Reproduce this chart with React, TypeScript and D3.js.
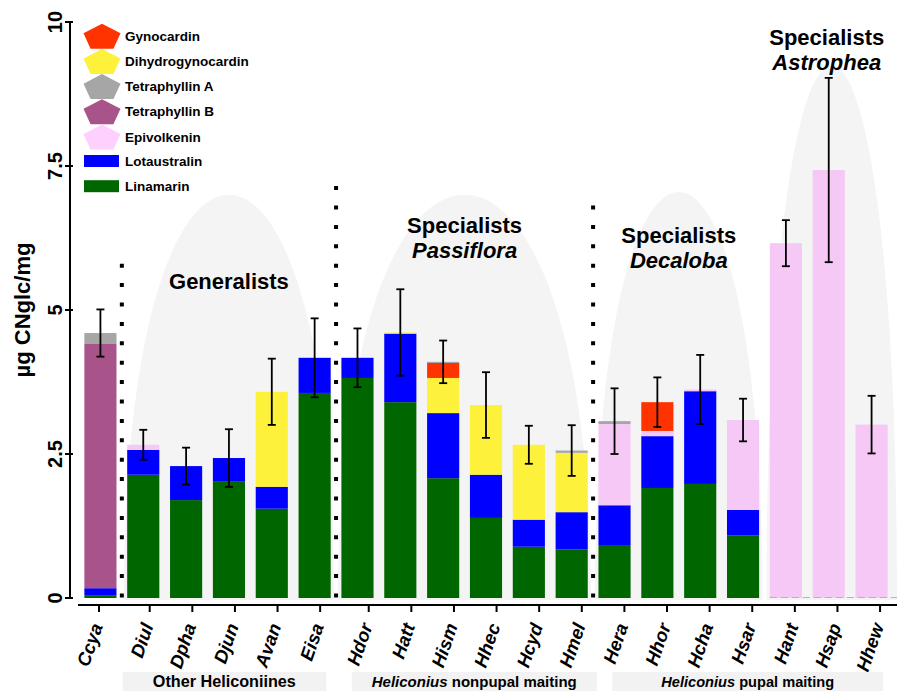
import * as d3 from 'd3'
import React from 'react'

// species, left to right
const species = ['Ccya', 'Diul', 'Dpha', 'Djun', 'Avan', 'Eisa', 'Hdor', 'Hatt', 'Hism', 'Hhec', 'Hcyd', 'Hmel',
  'Hera', 'Hhor', 'Hcha', 'Hsar', 'Hant', 'Hsap', 'Hhew']

// compound amounts (µg CNglc/mg), stacked bottom to top in this order
const linamarin = [0.05, 2.14, 1.70, 2.03, 1.55, 3.56, 3.82, 3.40, 2.08, 1.39, 0.89, 0.84, 0.92, 1.91, 1.98, 1.09, 0, 0, 0]
const lotaustralin = [0.12, 0.43, 0.59, 0.40, 0.38, 0.61, 0.35, 1.19, 1.13, 0.75, 0.47, 0.65, 0.69, 0.90, 1.61, 0.44, 0, 0, 0]
const epivolkenin = [0, 0.09, 0, 0, 0, 0, 0, 0, 0, 0, 0, 0, 1.41, 0.09, 0.03, 1.56, 6.16, 7.43, 3.01]
const tetraphyllinB = [4.24, 0, 0, 0, 0, 0, 0, 0, 0, 0, 0, 0, 0, 0, 0, 0, 0, 0, 0]
const dihydrogynocardin = [0, 0, 0, 0, 1.65, 0, 0, 0.02, 0.61, 1.21, 1.30, 1.03, 0, 0, 0, 0, 0, 0, 0]
const gynocardin = [0, 0, 0, 0, 0, 0, 0, 0, 0.26, 0, 0, 0, 0, 0.50, 0, 0, 0, 0, 0]
const tetraphyllinA = [0.19, 0, 0, 0, 0, 0, 0, 0, 0.02, 0, 0, 0.04, 0.05, 0, 0, 0, 0, 0, 0]
const errorSd = [0.41, 0.26, 0.32, 0.50, 0.575, 0.685, 0.51, 0.75, 0.37, 0.57, 0.33, 0.44, 0.57, 0.43, 0.60, 0.37, 0.40, 1.60, 0.50]

const seriesKeys = ['Linamarin', 'Lotaustralin', 'Epivolkenin', 'Tetraphyllin B', 'Dihydrogynocardin', 'Gynocardin', 'Tetraphyllin A']
const seriesValues = [linamarin, lotaustralin, epivolkenin, tetraphyllinB, dihydrogynocardin, gynocardin, tetraphyllinA]
const barColors: Record<string, string> = {
  Linamarin: '#006600',
  Lotaustralin: '#0000ff',
  Epivolkenin: '#f6c8f6',
  'Tetraphyllin B': '#a8538a',
  Dihydrogynocardin: '#fdf13b',
  Gynocardin: '#ff3300',
  'Tetraphyllin A': '#a6a6a6',
}

// legend, top to bottom
const legendNames = ['Gynocardin', 'Dihydrogynocardin', 'Tetraphyllin A', 'Tetraphyllin B', 'Epivolkenin', 'Lotaustralin', 'Linamarin']
const legendColors = ['#ff3300', '#fdf13b', '#a6a6a6', '#a8538a', '#fdd0fd', '#0000ff', '#006600']
const legendShapes = ['pentagon', 'pentagon', 'pentagon', 'pentagon', 'pentagon', 'rect', 'rect']

const yTicks = [0, 2.5, 5, 7.5, 10]
const yTickLabels = ['0', '2.5', '5', '7.5', '10']

// host-plant groups drawn as grey domes
const domeTitles = ['Generalists', 'Specialists', 'Specialists', 'Specialists']
const domeSubtitles = ['', 'Passiflora', 'Decaloba', 'Astrophea']
const domeFirst = [1, 6, 12, 16]
const domeLast = [5, 11, 15, 18]
const domeTop = [7.0, 7.0, 7.05, 9.24]
const domeLabelAt = [5.36, 6.34, 6.16, 9.6]

// dotted separators: after which species, how high
const dividerAfter = [0, 5, 11]
const dividerTop = [5.85, 7.25, 6.85]

// bottom group boxes
const boxPrefix = ['', 'Heliconius', 'Heliconius']
const boxLabel = ['Other Heliconiines', 'nonpupal maiting', 'pupal maiting']
const boxFirst = [1, 6, 12]
const boxLast = [5, 11, 18]

// the axis below the bars was laid out separately: small extra gaps after Ccya and Eisa
const axisSlot = species.map((_, i) => i + (i >= 1 ? 0.19 : 0) + (i >= 6 ? 0.14 : 0))

const font = 'Liberation Sans, Arial, Helvetica, sans-serif'

const pentagon = (cx: number, cy: number, w: number, h: number) => {
  const pts = d3.range(5).map(i => {
    const a = -Math.PI / 2 + i * 2 * Math.PI / 5
    return [cx + Math.cos(a) * w / 1.902, cy + 0.1 * h + Math.sin(a) * h / 1.809] as [number, number]
  })
  return 'M' + pts.map(p => p.join(',')).join('L') + 'Z'
}

export default function App() {
  const
    width = 897,
    height = 691,
    x = d3.scaleBand<string>().domain(species).range([79, 893]).paddingInner(0.25).paddingOuter(0.125),
    y = d3.scaleLinear().domain([0, 10]).range([598, 22]),
    tx = d3.scaleLinear().domain([0, 18]).range([99, 866]),
    step = x.step(),
    bw = x.bandwidth(),
    cx = (s: string) => (x(s) as number) + bw / 2,
    tickX = (i: number) => tx(axisSlot[i]),
    rows = species.map((s, i) => {
      const r: Record<string, any> = { species: s }
      seriesKeys.forEach((k, j) => { r[k] = seriesValues[j][i] })
      return r
    }),
    stacked = d3.stack<any>().keys(seriesKeys)(rows),
    totals = species.map((_, i) => d3.sum(seriesValues, v => v[i]))

  const domePath = (i: number) => {
    const
      x0 = cx(species[domeFirst[i]]) - step / 2 + 2,
      x1 = i === 3 ? x.range()[1] + 4 : cx(species[domeLast[i]]) + step / 2 - 2,
      xc = (x0 + x1) / 2,
      rx = (x1 - x0) / 2,
      b = y(0) + 2,
      t = y(domeTop[i]),
      h = b - t
    return `M${x0},${b} C${x0},${b - 0.68 * h} ${xc - 0.5 * rx},${t} ${xc},${t} ` +
      `C${xc + 0.5 * rx},${t} ${x1},${b - 0.68 * h} ${x1},${b} Z`
  }

  // box geometry; text widths in em of bold Arial-like glyphs
  const
    boxL = [27, 17, 12], boxR = [6, 15, 3],
    boxFont = [16.2, 15, 14.6],
    prefixEm = 5.057, spaceEm = 0.278,
    labelEm = [8.836, 8.334, 6.501],
    boxBase = 686.5
  const emptyStart = species.findIndex((_, i) => linamarin[i] + lotaustralin[i] === 0)

  return (
    <svg width={width} height={height} style={{ position: 'absolute', left: 0, top: 0, background: '#fff' }} fontFamily={font}>
      {/* domes */}
      {domeTitles.map((_, i) => <path key={'dome' + i} d={domePath(i)} fill='#f4f4f4' />)}

      {/* dotted separators */}
      {dividerAfter.map((d, i) => {
        const xx = cx(species[d]) + step / 2
        return <line key={'div' + i} x1={xx} x2={xx} y1={y(0) - 0.5} y2={y(dividerTop[i])}
          stroke='#000' strokeWidth={4} strokeDasharray='4 15.4' />
      })}

      {/* stacked bars */}
      {stacked.map(layer => (
        <g key={layer.key} fill={barColors[layer.key]}>
          {layer.map((d, i) => d[1] - d[0] > 0 ? (
            <rect key={i} x={x(species[i])} width={bw} y={y(d[1])} height={y(d[0]) - y(d[1])} />
          ) : null)}
        </g>
      ))}
      {/* zero cyanogen trace under the Astrophea specialists */}
      <line x1={x(species[emptyStart])} x2={x.range()[1] + 4} y1={y(0) - 0.5} y2={y(0) - 0.5}
        stroke='#7cc4ee' strokeWidth={1.2} strokeDasharray='7 4' />

      {/* error bars */}
      <g stroke='#000' strokeWidth={1.8}>
        {species.map((s, i) => {
          const c = cx(s), hi = y(totals[i] + errorSd[i]), lo = y(totals[i] - errorSd[i])
          return (
            <g key={s}>
              <line x1={c} x2={c} y1={hi} y2={lo} />
              <line x1={c - 4} x2={c + 4} y1={hi} y2={hi} />
              <line x1={c - 4} x2={c + 4} y1={lo} y2={lo} />
            </g>
          )
        })}
      </g>

      {/* dome labels */}
      {domeTitles.map((t, i) => {
        const c = (cx(species[domeFirst[i]]) + cx(species[domeLast[i]])) / 2 + (i === 3 ? -2 : 0)
        const yy = y(domeLabelAt[i])
        return (
          <g key={'dl' + i} textAnchor='middle' fontWeight='bold' fontSize={22} fill='#000'>
            <text x={c} y={yy}>{t}</text>
            {domeSubtitles[i] && <text x={c} y={yy + 25} fontStyle='italic'>{domeSubtitles[i]}</text>}
          </g>
        )
      })}

      {/* y axis */}
      <line x1={70} x2={70} y1={y(0)} y2={y(10)} stroke='#000' strokeWidth={2} />
      {yTicks.map((t, i) => (
        <g key={'yt' + i} transform={`translate(0,${y(t)})`}>
          <line x1={65} x2={73} stroke='#000' strokeWidth={2} />
          <text transform='translate(62,0) rotate(-90)' textAnchor='middle' fontWeight='bold' fontSize={20}>{yTickLabels[i]}</text>
        </g>
      ))}
      <text transform={`translate(30,${y(5)}) rotate(-90)`} textAnchor='middle' fontWeight='bold' fontSize={22}>µg CNglc/mg</text>

      {/* x axis */}
      <line x1={78} x2={x.range()[1] + 4} y1={605} y2={605} stroke='#000' strokeWidth={2} />
      {species.map((s, i) => (
        <g key={'xt' + s}>
          <line x1={tickX(i)} x2={tickX(i)} y1={605} y2={612} stroke='#000' strokeWidth={2} />
          <text transform={`translate(${tickX(i) + 4},626) rotate(-71)`} textAnchor='end'
            fontWeight='bold' fontStyle='italic' fontSize={18.5}>{s}</text>
        </g>
      ))}

      {/* bottom group boxes */}
      {boxLabel.map((l, i) => {
        const
          x0 = tickX(boxFirst[i]) - boxL[i],
          x1 = tickX(boxLast[i]) + boxR[i],
          fs = boxFont[i],
          pre = boxPrefix[i] ? (prefixEm + spaceEm) * fs : 0,
          total = pre + labelEm[i] * fs,
          start = (x0 + x1) / 2 - total / 2
        return (
          <g key={'box' + i} fontWeight='bold' fontSize={fs}>
            <rect x={x0} y={672} width={x1 - x0} height={height - 672} fill='#f2f2f2' />
            {boxPrefix[i] && <text x={start} y={boxBase} fontStyle='italic'>{boxPrefix[i]}</text>}
            <text x={start + pre} y={boxBase}>{l}</text>
          </g>
        )
      })}

      {/* legend */}
      {legendNames.map((n, i) => {
        const yy = 36 + i * 25.2 - (i >= 5 ? 1 : 0)
        return (
          <g key={'lg' + n}>
            {legendShapes[i] === 'pentagon'
              ? <path d={pentagon(102, yy - 1, 37, 25)} fill={legendColors[i]} />
              : <rect x={84} y={yy - 6} width={35} height={12} fill={legendColors[i]} />}
            <text x={125} y={yy} dy='0.35em' fontWeight='bold' fontSize={13.5}>{n}</text>
          </g>
        )
      })}
    </svg>
  )
}
